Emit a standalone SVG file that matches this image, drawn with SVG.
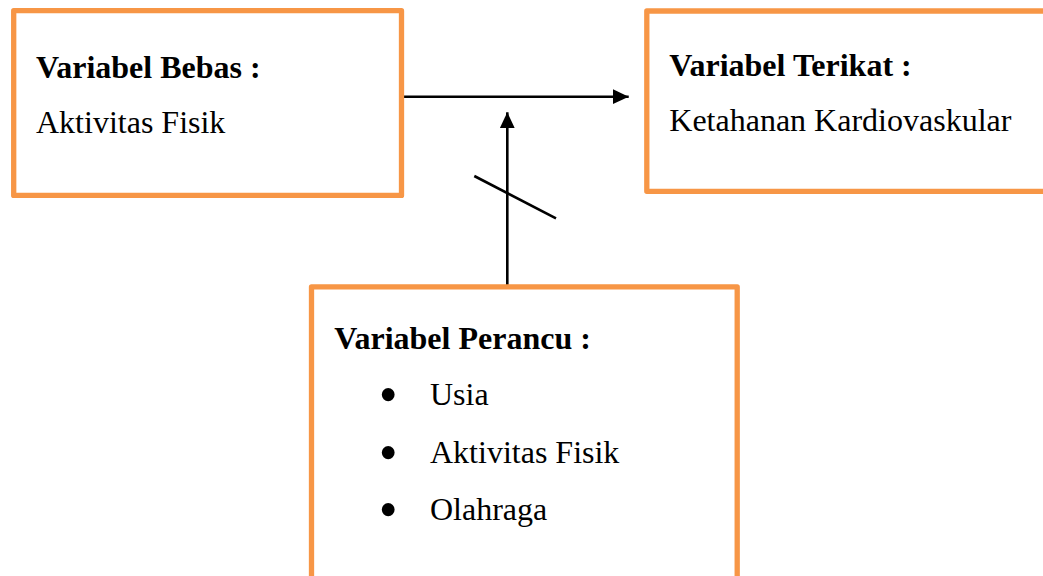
<svg xmlns="http://www.w3.org/2000/svg" width="1043" height="576" viewBox="0 0 1043 576">
  <style>
    .box { fill: #ffffff; stroke: #F79646; stroke-width: 5.3; stroke-linejoin: round; }
    .title { font-family: "Liberation Serif", "Times New Roman", serif; font-size: 32px; font-weight: bold; fill: #000; }
    .body { font-family: "Liberation Serif", "Times New Roman", serif; font-size: 32px; fill: #000; }
    .bullet { font-family: "Liberation Serif", "Times New Roman", serif; font-size: 54px; fill: #000; text-anchor: middle; }
    .link { stroke: #000; stroke-width: 2.6; fill: none; }
  </style>
  <defs>
    <marker id="arrow" markerUnits="userSpaceOnUse" markerWidth="17" markerHeight="16" refX="16" refY="7.5" orient="auto">
      <path d="M0,0 L16,7.5 L0,15 Z" fill="#000"/>
    </marker>
  </defs>
  <rect width="1043" height="576" fill="#ffffff"/>

  <g id="connectors">
    <line class="link" x1="404" y1="96.7" x2="628.7" y2="96.7" marker-end="url(#arrow)"/>
    <line class="link" x1="507.3" y1="286" x2="507.3" y2="112.3" marker-end="url(#arrow)"/>
    <line class="link" x1="474.3" y1="176" x2="556" y2="218.3" stroke-width="2.2"/>
  </g>

  <g id="variabel-bebas">
    <rect class="box" x="13.7" y="10.7" width="387.8" height="184.7"/>
    <text class="title" x="36" y="78.3">Variabel Bebas :</text>
    <text class="body" x="36" y="132.7">Aktivitas Fisik</text>
  </g>

  <g id="variabel-terikat">
    <rect class="box" x="646.8" y="11" width="420" height="180.3"/>
    <text class="title" x="669.3" y="76">Variabel Terikat :</text>
    <text class="body" x="669.3" y="130.7">Ketahanan Kardiovaskular</text>
  </g>

  <g id="variabel-perancu">
    <rect class="box" x="311.5" y="286.8" width="425.7" height="320"/>
    <text class="title" x="334.3" y="349">Variabel Perancu :</text>
    <text class="bullet" x="388.3" y="413">•</text>
    <text class="body" x="430" y="405">Usia</text>
    <text class="bullet" x="388.3" y="470.6">•</text>
    <text class="body" x="430" y="462.7">Aktivitas Fisik</text>
    <text class="bullet" x="388.3" y="528">•</text>
    <text class="body" x="430" y="520">Olahraga</text>
  </g>
</svg>
